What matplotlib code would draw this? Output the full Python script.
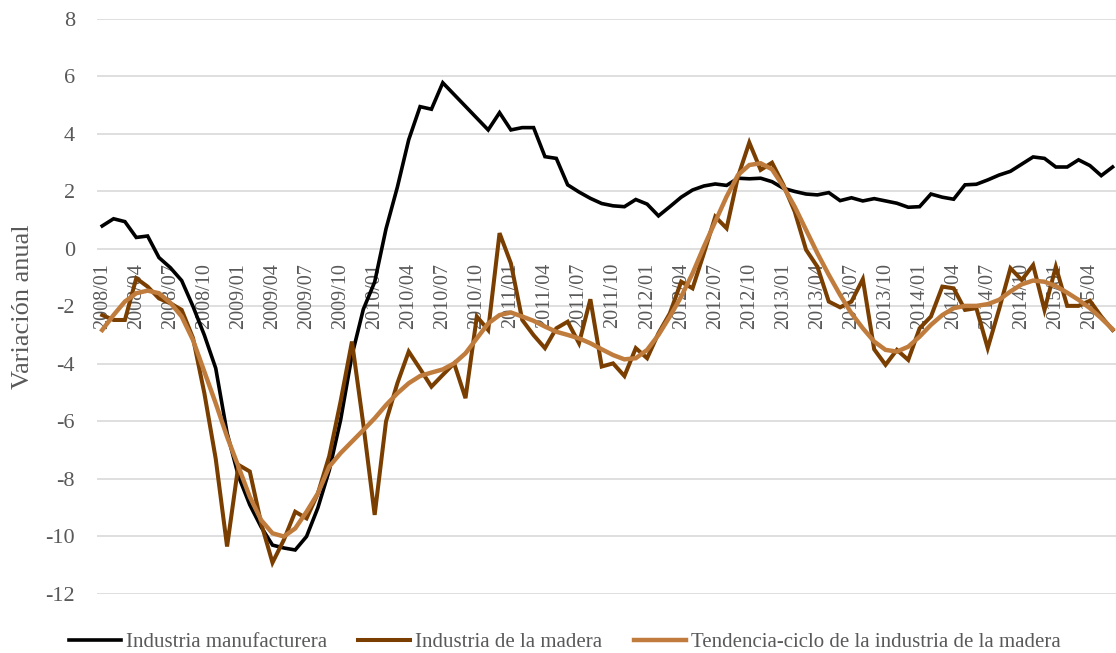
import matplotlib
matplotlib.use("Agg")
import matplotlib.pyplot as plt

plt.rcParams["font.family"] = ["Liberation Serif", "DejaVu Serif"]
plt.rcParams["axes.unicode_minus"] = False

# =====================================================
# Data (monthly, 2008/01 - 2015/06)
# =====================================================

years = list(range(2008, 2016))
months = [f"{y}/{m:02d}" for y in years for m in range(1, 13)][:90]

manufacturera = [
    0.8, 1.05, 0.95, 0.4, 0.45, -0.3, -0.65, -1.1, -2.0, -3.0,
    -4.15, -6.4, -7.9, -8.9, -9.67, -10.3, -10.4, -10.47, -10.0, -9.0,
    -7.7, -5.95, -3.7, -2.1, -1.15, 0.7, 2.15, 3.8, 4.95, 4.86,
    5.78, 5.37, 4.96, 4.55, 4.14, 4.74, 4.14, 4.22, 4.22, 3.21,
    3.15, 2.23, 1.98, 1.76, 1.58, 1.5, 1.47, 1.72, 1.56, 1.15,
    1.47, 1.8, 2.05, 2.19, 2.26, 2.21, 2.46, 2.44, 2.46, 2.34,
    2.11, 2.0, 1.91, 1.88, 1.96, 1.68, 1.78, 1.67, 1.75, 1.67,
    1.59, 1.45, 1.47, 1.91, 1.8, 1.73, 2.23, 2.25, 2.4, 2.57,
    2.7, 2.95, 3.2, 3.15, 2.85, 2.85, 3.1, 2.9, 2.55, 2.85,
]

madera = [
    -2.3, -2.47, -2.47, -1.02, -1.31, -1.72, -1.89, -2.12, -3.1, -5.02,
    -7.3, -10.35, -7.51, -7.74, -9.54, -10.91, -10.12, -9.14, -9.37, -8.5,
    -7.2, -5.3, -3.22, -6.1, -9.25, -6.0, -4.67, -3.57, -4.17, -4.79,
    -4.38, -3.98, -5.19, -2.35, -2.82, 0.55, -0.5, -2.47, -3.0, -3.45,
    -2.76, -2.53, -3.28, -1.75, -4.09, -3.98, -4.42, -3.45, -3.8, -2.93,
    -2.24, -1.14, -1.37, -0.15, 1.12, 0.72, 2.51, 3.7, 2.75, 3.0,
    2.23, 1.3, -0.03, -0.62, -1.83, -2.03, -1.83, -1.05, -3.49, -4.03,
    -3.51, -3.86, -2.76, -2.35, -1.31, -1.37, -2.12, -2.06, -3.45, -2.1,
    -0.67, -1.08, -0.56, -2.12, -0.62, -1.98, -1.98, -1.8, -2.35, -2.82,
]

tendencia = [
    -2.82, -2.3, -1.83, -1.54, -1.45, -1.54, -1.87, -2.35, -3.17, -4.27,
    -5.37, -6.53, -7.57, -8.62, -9.43, -9.89, -10.0, -9.72, -9.14, -8.5,
    -7.57, -7.1, -6.7, -6.3, -5.89, -5.43, -5.02, -4.67, -4.42, -4.3,
    -4.19, -3.98, -3.63, -3.11, -2.59, -2.3, -2.21, -2.35, -2.5, -2.7,
    -2.88, -2.99, -3.11, -3.28, -3.49, -3.69, -3.84, -3.8, -3.51, -2.99,
    -2.35, -1.66, -0.85, 0.08, 0.95, 1.82, 2.57, 2.92, 2.98, 2.77,
    2.17, 1.47, 0.66, -0.15, -0.9, -1.6, -2.24, -2.76, -3.22, -3.51,
    -3.57, -3.4, -3.05, -2.64, -2.3, -2.06, -1.98, -1.98, -1.92, -1.77,
    -1.48, -1.23, -1.1, -1.14, -1.29, -1.52, -1.77, -2.06, -2.41, -2.79,
]

series_names = [
    "Industria manufacturera",
    "Industria de la madera",
    "Tendencia-ciclo de la industria de la madera",
]
series_colors = ["#000000", "#7a3e00", "#c07c3c"]
series_widths = [2.6, 2.9, 3.2]

# =====================================================
# Plot
# =====================================================

fig = plt.figure(figsize=(11.16, 6.53), dpi=100)
ax = fig.add_axes([0.087, 0.0904, 0.913, 0.8806])

x = list(range(len(months)))
for values, name, color, lw in zip([manufacturera, madera, tendencia],
                                   series_names, series_colors, series_widths):
    ax.plot(x, values, color=color, linewidth=lw, label=name,
            solid_joinstyle="miter", zorder=3)

# axis spine at y = 0 so the month labels sit under the zero line
for side in ["top", "right", "left"]:
    ax.spines[side].set_visible(False)
ax.spines["bottom"].set_position(("data", 0))
ax.spines["bottom"].set_visible(False)

ax.set_ylim(-12, 8)
ax.set_yticks(range(-12, 9, 2))
ax.set_xlim(-0.45, 89.3)

tick_idx = x[::3]
ax.set_xticks(tick_idx)
ax.set_xticklabels([months[i] for i in tick_idx])

ax.grid(axis="y", color="#d9d9d9", linewidth=1.2)
ax.set_axisbelow(True)

ax.tick_params(axis="x", length=0, pad=10, labelsize=14.5,
               labelcolor="#595959", labelrotation=90)
ax.tick_params(axis="y", length=0, pad=16, labelsize=16, labelcolor="#595959")
ax.xaxis.set_zorder(1)

ax.set_ylabel("Variación anual", fontsize=19, color="#595959", labelpad=8)

fig.legend(
    loc="center",
    bbox_to_anchor=(0.506, 0.016),
    ncol=3,
    frameon=False,
    fontsize=15,
    labelcolor="#595959",
    handlelength=2.5,
    handletextpad=0.25,
    columnspacing=1.5,
)

fig.savefig("out.png", dpi=100)
